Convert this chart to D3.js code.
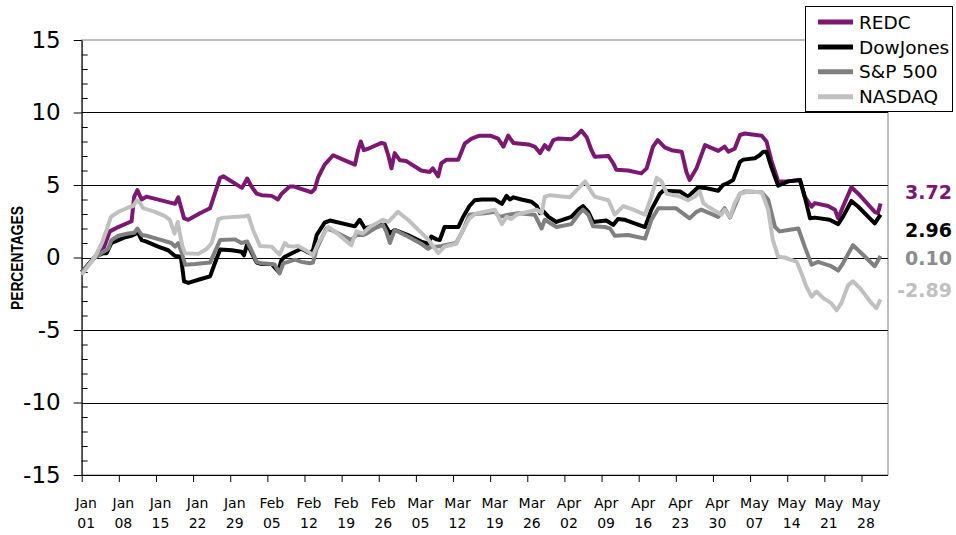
<!DOCTYPE html>
<html>
<head>
<meta charset="utf-8">
<script src="https://cdn.jsdelivr.net/npm/d3@7.9.0/dist/d3.min.js"></script>
<style>
  body { margin: 0; background: #fff; }
  svg text { font-family: "DejaVu Sans", sans-serif; }
</style>
</head>
<body>
<svg id="chart" width="956" height="535"></svg>
<script>
// x values are days since Jan 01, y values are percentages
const tickLabels = [
  ["Jan", "01"], ["Jan", "08"], ["Jan", "15"], ["Jan", "22"], ["Jan", "29"],
  ["Feb", "05"], ["Feb", "12"], ["Feb", "19"], ["Feb", "26"],
  ["Mar", "05"], ["Mar", "12"], ["Mar", "19"], ["Mar", "26"],
  ["Apr", "02"], ["Apr", "09"], ["Apr", "16"], ["Apr", "23"], ["Apr", "30"],
  ["May", "07"], ["May", "14"], ["May", "21"], ["May", "28"]
];
const yTicks = [-15, -10, -5, 0, 5, 10, 15];
const seriesNames = ["REDC", "DowJones", "S&P 500", "NASDAQ"];
const finalValues = [3.72, 2.96, 0.10, -2.89];

const redc = [[0,-1.0],[2.5,0.0],[4.1,0.6],[5.3,1.8],[6.9,2.1],[9.4,2.5],[9.9,4.2],[10.5,4.65],[11.3,4.0],[12.2,4.2],[17.6,3.7],[18.2,4.15],[18.7,3.5],[19.3,2.7],[20.1,2.6],[22.3,3.05],[24.2,3.4],[25.1,4.4],[26.1,5.5],[26.7,5.6],[30.2,4.8],[31.2,5.45],[32.0,4.9],[33.0,4.4],[33.9,4.3],[35.8,4.25],[37.0,4.0],[37.7,4.4],[39.2,4.9],[39.9,4.9],[43.3,4.5],[43.9,4.7],[44.6,5.55],[45.8,6.4],[47.4,7.05],[49.6,6.7],[51.5,6.4],[52.1,7.4],[52.6,8.0],[53.2,7.4],[54.0,7.5],[56.5,7.9],[57.1,7.85],[57.8,7.05],[58.4,6.15],[59.0,7.2],[60.0,6.7],[61.2,6.65],[64.0,6.0],[65.6,5.9],[66.2,6.15],[67.2,5.6],[67.8,6.5],[68.8,6.75],[71.0,6.75],[72.2,7.85],[73.5,8.2],[75.0,8.4],[77.0,8.4],[78.5,8.2],[79.5,7.65],[80.4,8.4],[81.4,7.9],[84.2,7.8],[85.4,7.65],[86.4,7.2],[87.3,7.75],[88.0,7.45],[88.9,8.1],[89.8,8.2],[92.3,8.15],[93.3,8.4],[94.2,8.75],[95.2,8.3],[96.1,7.4],[96.7,6.95],[99.3,7.0],[100.2,6.5],[100.8,6.05],[103.0,6.0],[105.5,5.8],[106.5,6.15],[107.7,7.65],[108.6,8.1],[109.9,7.6],[111.2,7.4],[113.1,7.3],[114.0,5.9],[114.6,5.35],[115.9,6.15],[117.5,7.75],[120.0,7.35],[121.2,7.65],[121.9,7.3],[123.1,7.5],[124.1,8.45],[125.0,8.55],[128.2,8.4],[129.1,8.0],[130.0,6.7],[131.3,5.25],[132.9,5.25],[135.4,5.35],[136.3,4.2],[137.6,3.5],[138.2,3.75],[140.7,3.55],[142.0,3.3],[142.6,2.7],[143.5,3.5],[145.1,4.85],[146.4,4.4],[149.5,3.15],[150.1,3.05],[150.6,3.72]];

const dowJones = [[0,-1.0],[2.5,0.05],[4.1,0.3],[4.7,0.3],[5.6,1.0],[6.9,1.2],[8.2,1.4],[9.4,1.5],[10.0,1.6],[10.5,1.8],[11.3,1.2],[12.2,1.1],[14.4,0.75],[16.3,0.5],[17.6,0.1],[18.7,0.05],[19.3,-1.65],[20.1,-1.75],[22.3,-1.5],[24.2,-1.3],[25.1,-0.4],[26.1,0.55],[28.3,0.5],[30.1,0.4],[30.6,0.15],[31.2,0.95],[32.0,0.35],[33.0,-0.35],[33.9,-0.45],[35.8,-0.45],[37.0,-0.95],[37.7,-0.15],[38.3,0.05],[40.2,0.4],[41.4,0.6],[43.0,0.3],[43.6,0.5],[44.3,1.55],[45.8,2.4],[46.8,2.55],[51.5,2.15],[52.4,2.6],[53.4,2.0],[54.6,2.15],[56.5,2.35],[57.1,2.3],[58.1,1.65],[59.0,1.9],[61.5,1.55],[64.0,1.1],[65.3,0.95],[65.9,1.45],[66.9,1.25],[67.5,1.2],[68.4,2.1],[71.0,2.1],[71.9,2.8],[73.1,3.55],[74.1,3.95],[75.4,4.0],[77.9,4.0],[79.2,3.7],[80.1,4.25],[80.7,4.0],[81.4,4.15],[82.9,4.0],[84.8,3.85],[85.8,3.55],[86.4,3.05],[87.0,3.2],[88.0,2.8],[89.5,2.45],[92.3,2.8],[93.6,3.3],[94.5,3.55],[95.5,3.15],[96.4,2.45],[98.9,2.55],[100.2,2.25],[101.1,2.65],[102.4,2.6],[106.2,2.1],[107.4,3.3],[109.0,4.4],[109.6,4.6],[112.8,4.55],[114.3,4.2],[116.2,4.85],[117.5,4.8],[120.0,4.6],[120.9,5.0],[121.9,5.15],[122.8,5.35],[124.1,6.6],[124.7,6.75],[126.9,6.85],[127.8,7.05],[128.5,7.3],[129.1,7.3],[130.0,6.25],[131.3,4.95],[133.2,5.25],[135.4,5.35],[136.3,4.2],[137.3,2.7],[138.2,2.75],[141.0,2.6],[142.6,2.3],[143.5,2.8],[145.1,3.9],[146.4,3.5],[149.5,2.35],[150.6,2.96]];

const sp500 = [[0,-1.0],[2.5,0.0],[4.1,0.4],[5.0,0.6],[5.6,1.2],[6.9,1.5],[8.8,1.65],[9.9,1.7],[10.5,2.0],[11.3,1.55],[12.2,1.5],[15.1,1.2],[16.9,1.0],[17.6,0.75],[18.2,1.0],[18.8,0.4],[19.5,-0.5],[21.4,-0.45],[24.2,-0.35],[25.1,0.4],[26.1,1.2],[28.9,1.25],[30.1,1.0],[31.2,1.1],[32.0,0.5],[33.0,-0.3],[33.9,-0.4],[35.8,-0.45],[36.4,-0.5],[37.3,-1.1],[38.0,-0.4],[38.9,-0.3],[40.2,-0.15],[41.4,-0.3],[43.0,-0.4],[43.6,-0.35],[44.3,0.6],[46.1,2.0],[47.1,1.9],[50.8,1.2],[51.8,1.55],[53.0,1.55],[53.7,1.65],[55.2,2.0],[56.8,2.25],[57.4,1.8],[58.1,1.0],[59.0,1.9],[61.5,1.45],[64.0,0.95],[65.3,0.6],[65.9,0.75],[66.9,0.75],[67.8,0.8],[70.6,1.0],[71.9,1.9],[73.1,2.95],[74.1,3.0],[76.0,3.05],[77.9,3.15],[78.8,2.8],[80.4,2.95],[82.3,3.05],[85.4,2.95],[86.7,2.0],[87.3,2.6],[89.5,2.1],[92.3,2.3],[93.6,2.95],[94.5,3.3],[95.5,2.95],[96.4,2.15],[98.6,2.1],[99.6,2.0],[100.5,1.5],[103.0,1.55],[106.2,1.3],[107.4,2.6],[108.7,3.4],[110.0,3.4],[112.0,3.4],[114.6,2.7],[115.9,3.15],[116.8,3.3],[120.0,2.8],[121.2,3.4],[122.2,2.75],[124.1,4.4],[125.0,4.55],[128.2,4.5],[129.4,4.0],[130.7,2.1],[131.6,1.8],[133.2,1.9],[135.1,2.0],[136.3,0.75],[137.6,-0.5],[138.8,-0.3],[141.3,-0.6],[142.6,-0.9],[143.5,-0.4],[145.4,0.85],[146.7,0.4],[149.5,-0.6],[150.6,0.10]];

const nasdaq = [[0,-1.2],[2.5,0.05],[3.8,1.0],[4.7,1.9],[5.5,2.8],[6.9,3.15],[8.8,3.45],[9.7,3.55],[10.4,3.95],[11.0,3.75],[11.6,3.4],[13.8,3.15],[15.7,2.85],[16.6,2.6],[17.5,1.65],[18.1,2.45],[18.5,1.65],[19.0,0.75],[19.5,0.3],[22.0,0.25],[23.6,0.6],[24.5,1.0],[25.8,2.65],[26.7,2.75],[30.8,2.85],[31.4,2.9],[32.3,1.9],[33.6,0.8],[35.8,0.75],[37.3,0.2],[38.3,1.0],[38.9,0.8],[39.9,0.75],[40.8,0.8],[42.7,0.4],[43.6,0.15],[44.6,1.0],[46.5,2.1],[47.7,1.8],[50.8,0.85],[51.8,1.8],[53.0,1.65],[54.3,2.1],[56.8,2.6],[57.8,2.45],[59.6,3.15],[61.5,2.6],[65.3,1.25],[66.6,0.6],[67.2,0.3],[68.4,0.75],[70.6,0.95],[71.9,1.9],[73.1,2.7],[74.1,3.0],[76.0,3.15],[77.9,3.3],[79.2,2.3],[80.1,2.8],[81.0,2.65],[82.0,2.95],[83.6,3.1],[85.8,3.3],[86.7,3.05],[87.3,4.2],[88.3,4.3],[92.0,4.15],[93.3,4.65],[94.9,5.25],[95.8,4.7],[96.7,4.2],[99.3,3.95],[100.5,2.95],[102.1,3.55],[104.0,3.3],[106.2,2.95],[107.4,4.2],[108.4,5.5],[109.3,5.25],[110.3,4.4],[112.8,4.2],[114.3,3.95],[115.6,4.2],[116.5,4.55],[117.2,3.75],[118.1,3.5],[120.6,2.95],[121.2,3.3],[122.2,2.8],[123.1,3.75],[124.1,4.4],[125.6,4.55],[128.2,4.5],[129.4,3.3],[130.3,1.2],[131.3,0.05],[132.5,0.0],[134.8,-0.3],[135.7,-1.1],[136.6,-2.0],[137.6,-2.7],[138.5,-2.35],[139.8,-2.8],[141.3,-3.15],[142.3,-3.65],[143.2,-3.15],[144.5,-1.9],[145.4,-1.65],[146.7,-2.1],[148.9,-3.15],[149.8,-3.5],[150.6,-2.89]];

const allSeries = [redc, dowJones, sp500, nasdaq];
const colors = ["#7b1870", "#000000", "#808080", "#c0c0c0"];
const labelColors = ["#7b1870", "#000000", "#8c8c8c", "#c0c0c0"];

const svg = d3.select("#chart");
const plotLeft = 81.7, plotRight = 888, plotTop = 40, plotBottom = 475;

const x = d3.scaleLinear().domain([0, 152]).range([plotLeft, plotRight]);
const y = d3.scaleLinear().domain([-15, 15]).range([plotBottom, plotTop]);

// plot border
svg.append("rect")
  .attr("x", plotLeft).attr("y", plotTop)
  .attr("width", plotRight - plotLeft).attr("height", plotBottom - plotTop)
  .attr("fill", "none").attr("stroke", "#808080").attr("stroke-width", 1);

// gridlines
svg.append("g").selectAll("line")
  .data([-10, -5, 0, 5, 10])
  .join("line")
  .attr("x1", plotLeft).attr("x2", plotRight)
  .attr("y1", d => Math.round(y(d)) + 0.5).attr("y2", d => Math.round(y(d)) + 0.5)
  .attr("stroke", "#000").attr("stroke-width", 1);

// minor ticks (inside)
const minor = d3.range(-15, 16).filter(d => d % 5 !== 0);
svg.append("g")
  .attr("transform", `translate(${plotLeft},0)`)
  .call(d3.axisRight(y).tickValues(minor).tickSize(6).tickSizeOuter(0).tickFormat(""))
  .call(g => g.select(".domain").remove());

// y axis
const yAxis = svg.append("g")
  .attr("transform", `translate(${plotLeft},0)`)
  .call(d3.axisLeft(y).tickValues(yTicks).tickSize(8).tickSizeOuter(0).tickPadding(13).tickFormat(d => d));
yAxis.selectAll("text").style("font-size", "23px").attr("fill", "#000");
yAxis.selectAll("line, path").attr("stroke", "#000");

// x axis
const xAxis = svg.append("g")
  .attr("transform", `translate(0,${plotBottom})`)
  .call(d3.axisBottom(x).tickValues(d3.range(0, 148, 7)).tickSize(7).tickSizeOuter(0).tickFormat(""));
xAxis.select(".domain").attr("d", `M${plotLeft},0.5H${plotRight}`).attr("stroke", "#000");
xAxis.selectAll(".tick line").attr("stroke", "#000");
xAxis.selectAll(".tick").each(function (d, i) {
  const t = d3.select(this).append("text")
    .attr("fill", "#000").style("font-size", "14px").attr("text-anchor", "middle");
  t.append("tspan").attr("x", 4).attr("y", 33).text(tickLabels[i][0]);
  t.append("tspan").attr("x", 4).attr("y", 53).text(tickLabels[i][1]);
});

// y title
svg.append("text")
  .attr("transform", "translate(23,258) rotate(-90)")
  .attr("text-anchor", "middle")
  .attr("textLength", 104).attr("lengthAdjust", "spacingAndGlyphs")
  .style("font-family", '"Liberation Sans Narrow", "Liberation Sans", sans-serif')
  .style("font-weight", "bold").style("font-size", "16px")
  .text("PERCENTAGES");

// lines
const line = d3.line().x(d => x(d[0])).y(d => y(d[1]));
svg.append("g").selectAll("path")
  .data(allSeries)
  .join("path")
  .attr("d", line)
  .attr("fill", "none")
  .attr("stroke", (d, i) => colors[i])
  .attr("stroke-width", 4)
  .attr("stroke-linejoin", "round");

// final value labels
const labelY = [199, 237, 265, 297];
svg.append("g").selectAll("text")
  .data(finalValues)
  .join("text")
  .attr("x", 952).attr("y", (d, i) => labelY[i])
  .attr("text-anchor", "end")
  .attr("fill", (d, i) => labelColors[i])
  .style("font-weight", "bold").style("font-size", "19px")
  .text(d => d.toFixed(2));

// legend
const legend = svg.append("g");
legend.append("rect")
  .attr("x", 805.5).attr("y", 6.5).attr("width", 147).attr("height", 105)
  .attr("fill", "#fff").attr("stroke", "#000");
const items = legend.selectAll("g.item")
  .data(seriesNames)
  .join("g").attr("class", "item")
  .attr("transform", (d, i) => `translate(0,${22 + i * 24.9})`);
items.append("line")
  .attr("x1", 818).attr("x2", 853)
  .attr("stroke", (d, i) => colors[i]).attr("stroke-width", 5);
items.append("text")
  .attr("x", 859).attr("dy", "0.36em")
  .style("font-size", "18.5px").attr("fill", "#000")
  .text(d => d);
</script>
</body>
</html>
